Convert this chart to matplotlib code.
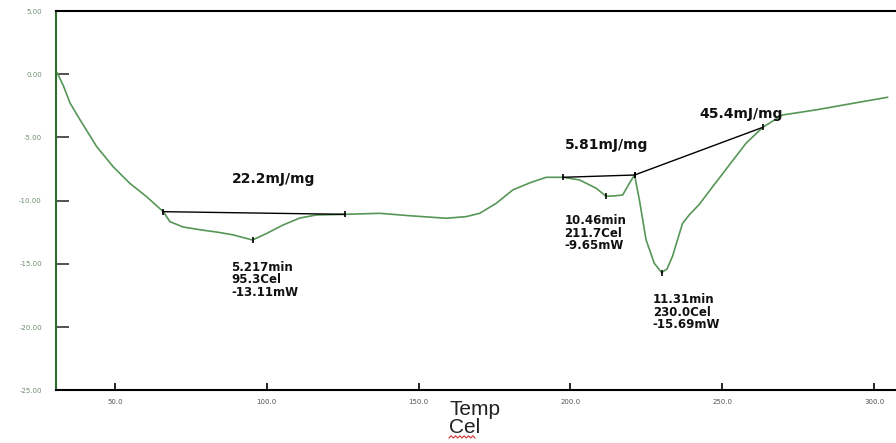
import numpy as np
import matplotlib
matplotlib.use("Agg")
import matplotlib.pyplot as plt
from matplotlib.lines import Line2D

# DSC trace (temperature in Cel, heat flow in mW)
temp = [31.0, 33.0, 35.2, 38.5, 44.0, 49.4, 54.9, 60.4, 65.9, 68.1, 72.4, 78.0,
        84.0, 88.8, 95.3, 99.9, 105.3, 110.9, 116.4, 125.7, 137.2, 148.1, 159.1,
        165.7, 170.1, 175.6, 181.0, 186.5, 192.0, 197.5, 203.0, 208.5, 211.7,
        214.5, 217.2, 219.4, 221.1, 222.7, 224.9, 227.6, 230.0, 231.8, 233.6,
        236.9, 239.2, 242.4, 246.8, 252.3, 257.8, 263.3, 269.8, 280.8, 291.8,
        304.4]
heat = [0.1, -0.9, -2.27, -3.6, -5.73, -7.31, -8.63, -9.68, -10.87, -11.66,
        -12.08, -12.3, -12.5, -12.7, -13.11, -12.6, -11.93, -11.37, -11.13,
        -11.08, -11.0, -11.21, -11.39, -11.26, -11.0, -10.2, -9.15, -8.6, -8.15,
        -8.15, -8.36, -9.02, -9.65, -9.62, -9.55, -8.62, -7.97, -9.94, -13.1,
        -14.95, -15.69, -15.4, -14.4, -11.8, -11.1, -10.3, -8.9, -7.18, -5.46,
        -4.2, -3.22, -2.82, -2.35, -1.82]

# integration baselines (start, end)
base_x = [(65.9, 125.7), (197.5, 221.1), (221.1, 263.3)]
base_y = [(-10.87, -11.08), (-8.15, -7.97), (-7.97, -4.2)]
base_labels = ["22.2mJ/mg", "5.81mJ/mg", "45.4mJ/mg"]
base_label_pos = [(88.4, -8.31), (198.0, -5.59), (242.4, -3.14)]

# peak readouts
peak_x = [95.3, 211.7, 230.0]
peak_y = [-13.11, -9.65, -15.69]
peak_labels = ["5.217min\n95.3Cel\n-13.11mW",
               "10.46min\n211.7Cel\n-9.65mW",
               "11.31min\n230.0Cel\n-15.69mW"]
peak_label_pos = [(88.4, -16.27), (198.0, -12.58), (227.1, -18.83)]

xticks = [50, 100, 150, 200, 250, 300]
yticks = [5, 0, -5, -10, -15, -20, -25]

fig = plt.figure(figsize=(8.96, 4.43), dpi=100)
ax = fig.add_axes([0.0622, 0.119, 0.9378, 0.856])

ax.plot(temp, heat, color="#569656", lw=1.2, zorder=3)

for bx, by in zip(base_x, base_y):
    ax.plot(bx, by, color="black", lw=1.0, zorder=4)
    ax.plot(bx, by, ls="none", marker="|", ms=5, mew=1.2, color="black", zorder=5)
ax.plot(peak_x, peak_y, ls="none", marker="|", ms=5, mew=1.2, color="black", zorder=5)

for s, (px, py) in zip(base_labels, base_label_pos):
    ax.text(px, py, s, ha="left", va="center", fontsize=10,
            fontweight="bold", color="#111111")
for s, (px, py) in zip(peak_labels, peak_label_pos):
    ax.text(px, py, s, ha="left", va="center", fontsize=8.5,
            fontweight="bold", color="#111111", linespacing=0.95)

ax.set_xlim(30.5, 307.2)
ax.set_ylim(-25, 5)
ax.set_xticks(xticks)
ax.set_xticklabels([f"{v:.1f}" for v in xticks])
ax.set_yticks(yticks)
ax.set_yticklabels([f"{v:.2f}" for v in yticks])

ax.spines["right"].set_visible(False)
ax.spines["left"].set_color("#2e6b2e")
ax.spines["left"].set_linewidth(1.5)
ax.spines["top"].set_linewidth(1.5)
ax.spines["bottom"].set_linewidth(1.5)

ax.tick_params(axis="x", direction="in", length=5, width=1.2, color="black",
               labelsize=5, labelcolor="#555555", pad=6)
ax.tick_params(axis="y", direction="in", length=9, width=1.2, color="#333333",
               labelsize=5, labelcolor="#6f8f6f", pad=10)

fig.text(449 / 896, 1 - 415 / 443, "Temp", fontsize=15, family="Liberation Sans",
         ha="left", va="baseline", color="#222222")
fig.text(449 / 896, 1 - 433 / 443, "Cel", fontsize=15, family="Liberation Sans",
         ha="left", va="baseline", color="#222222")

# red squiggle under "Cel"
wx = np.linspace(449, 475, 13) / 896
wy = (1 - 438 / 443) + np.where(np.arange(13) % 2 == 0, 0.0, 0.005)
fig.add_artist(Line2D(wx, wy, transform=fig.transFigure, color="#d23030", lw=0.8))

fig.savefig("out.png", dpi=100)
